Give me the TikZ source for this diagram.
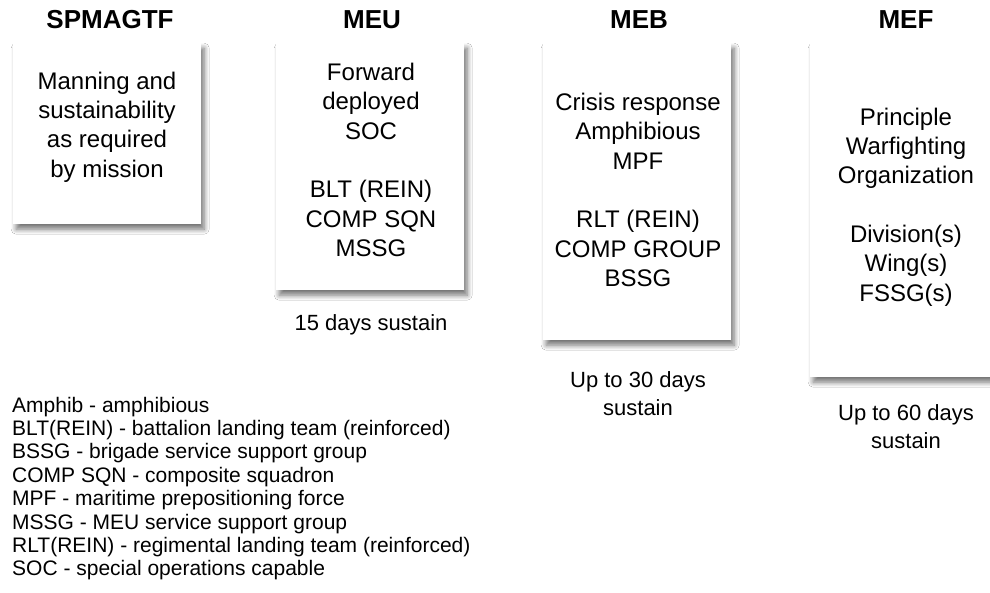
\documentclass[tikz,border=0pt]{standalone}
\usepackage{fontspec}
\setmainfont{Liberation Sans}
\usetikzlibrary{shadows.blur}
\tikzset{
  box/.style={draw=none, fill=white, anchor=north west, inner sep=0pt,
    blur shadow={shadow xshift=3pt, shadow yshift=-5pt, shadow blur radius=5pt, shadow blur steps=8, shadow opacity=55}},
  title/.style={font=\bfseries\fontsize{26}{30}\selectfont, inner sep=0pt},
  boxtext/.style={font=\fontsize{24}{29.3}\selectfont, align=center, inner sep=0pt},
  sustain/.style={font=\fontsize{22}{28}\selectfont, align=center, inner sep=0pt},
  legend/.style={font=\fontsize{21}{23}\selectfont, anchor=base west, inner sep=0pt}
}
\begin{document}
\begin{tikzpicture}[x=1pt,y=-1pt]
\useasboundingbox (0,0) rectangle (990,592);
\fill[white] (0,0) rectangle (990,592);
% boxes
\node[box, minimum width=188pt, minimum height=181pt] (b1) at (13,43) {};
\node[box, minimum width=188pt, minimum height=247pt] (b2) at (276,43) {};
\node[box, minimum width=188pt, minimum height=297pt] (b3) at (543,43) {};
\node[box, minimum width=188pt, minimum height=334pt] (b4) at (810,43) {};
% titles
\node[title] (t1) at (110,20) {SPMAGTF};
\node[title] (t2) at (372,20) {MEU};
\node[title] (t3) at (639,20) {MEB};
\node[title] (t4) at (906,20) {MEF};
% box texts
\node[boxtext] (x1) at (107,127) {Manning and\\sustainability\\as required\\by mission};
\node[boxtext] (x2) at (371,160) {Forward\\deployed\\SOC\\[29.3pt]BLT (REIN)\\COMP SQN\\MSSG};
\node[boxtext] (x3) at (638,190) {Crisis response\\Amphibious\\MPF\\[29.3pt]RLT (REIN)\\COMP GROUP\\BSSG};
\node[boxtext] (x4) at (906,207) {Principle\\Warfighting\\Organization\\[29.3pt]Division(s)\\Wing(s)\\FSSG(s)};
% sustain labels
\node[sustain] (s2) at (371,325) {15 days sustain};
\node[sustain] (s3) at (638,394) {Up to 30 days\\sustain};
\node[sustain] (s4) at (906,427) {Up to 60 days\\sustain};
% legend
\node[legend] (l1) at (12,412) {Amphib - amphibious};
\node[legend] (l2) at (12,435.4) {BLT(REIN) - battalion landing team (reinforced)};
\node[legend] (l3) at (12,458.8) {BSSG - brigade service support group};
\node[legend] (l4) at (12,482.2) {COMP SQN - composite squadron};
\node[legend] (l5) at (12,505.6) {MPF - maritime prepositioning force};
\node[legend] (l6) at (12,529) {MSSG - MEU service support group};
\node[legend] (l7) at (12,552.4) {RLT(REIN) - regimental landing team (reinforced)};
\node[legend] (l8) at (12,575.8) {SOC - special operations capable};
\end{tikzpicture}
\end{document}
